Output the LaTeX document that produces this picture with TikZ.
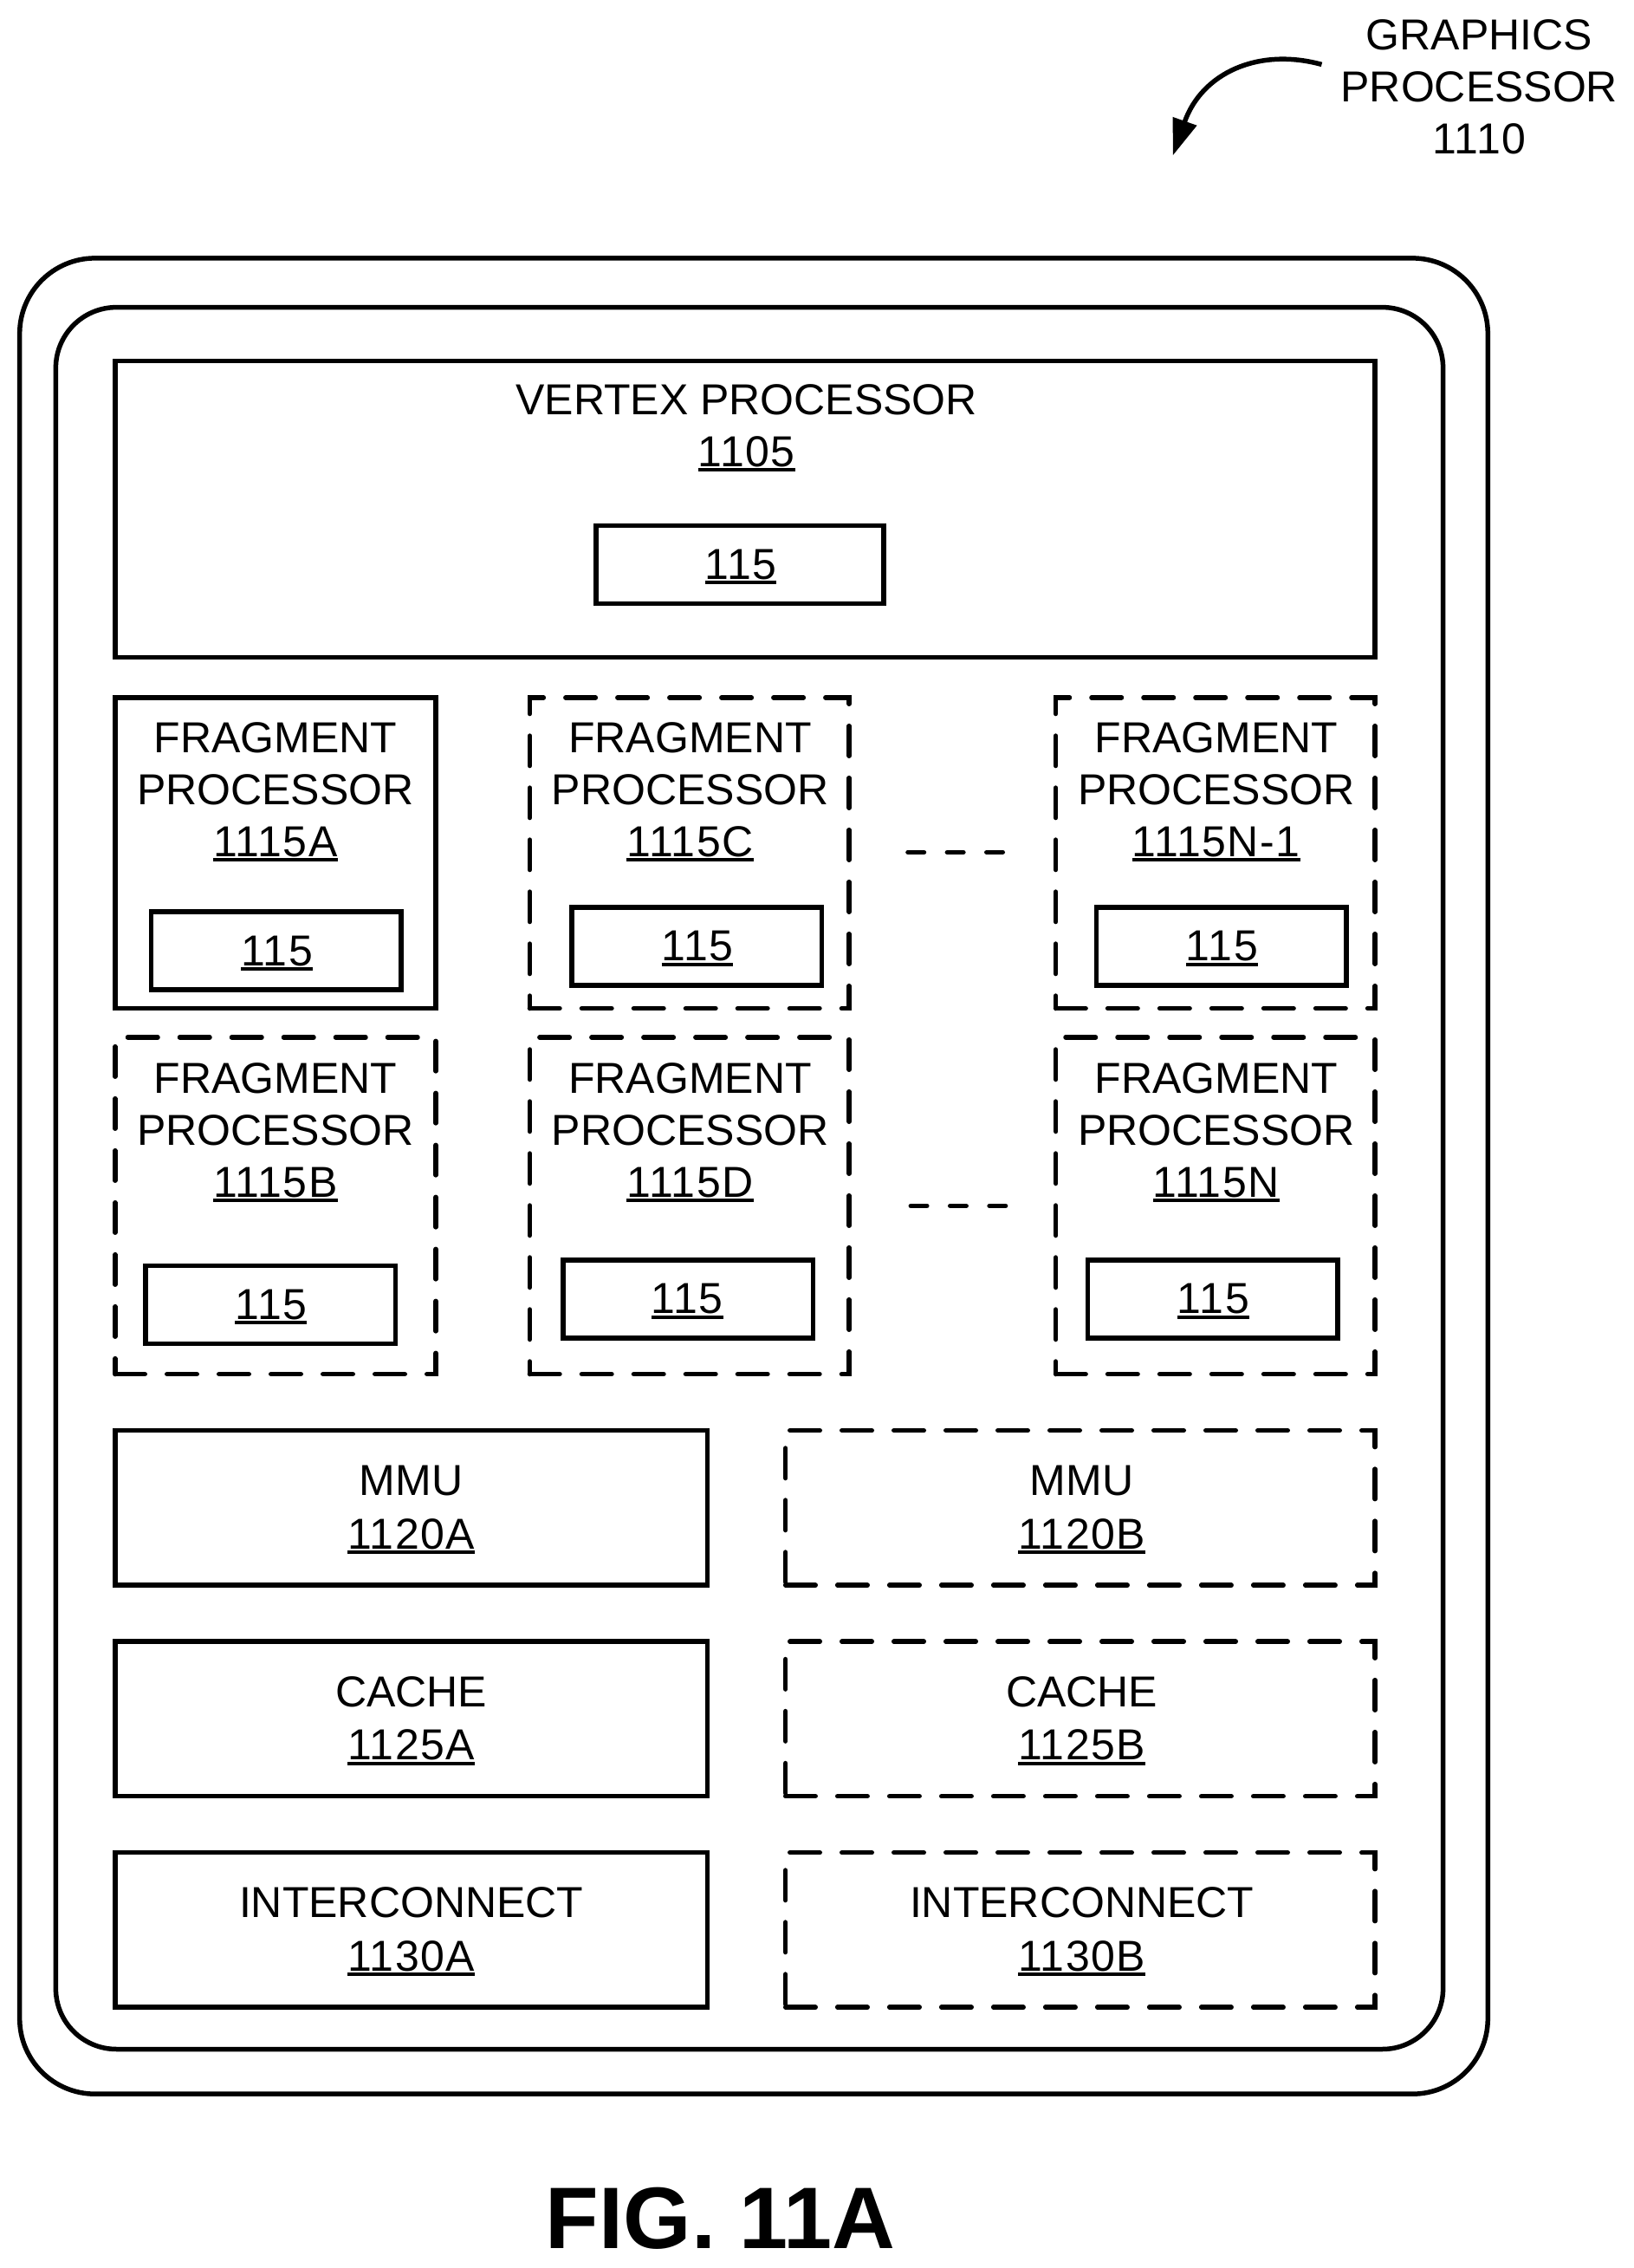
\documentclass[tikz,border=0pt]{standalone}
\usepackage{fontspec}
\setmainfont{Liberation Sans}
\newfontfamily\idf[LetterSpace=3.2]{Liberation Sans}
\usetikzlibrary{arrows.meta}
\newcommand\ulx[1]{\setbox0\hbox{\idf #1}\rlap{\vrule width\wd0 height -1pt depth 3pt}\box0}
\newcommand\bx[6]{\node[#6,minimum width=\the\numexpr#4-#2\relax*0.834pt,minimum height=\the\numexpr#5-#3\relax*0.834pt] (#1) at ({(#2+#4)/2},{(#3+#5)/2}) {};}
\tikzset{
  x=0.834pt,y=-0.834pt,
  solidbox/.style={draw=black,line width=2.75pt,inner sep=0pt,outer sep=0pt,rectangle},
  dashbox/.style={solidbox,line cap=round,dash pattern=on 17.25pt off 12.75pt},
  lbl/.style={anchor=base,inner sep=0pt,outer sep=0pt,font=\fontsize{25pt}{30pt}\selectfont},
  ell/.style={line width=2.75pt,line cap=round,dash pattern=on 9.25pt off 13.45pt},
}
\begin{document}
\begin{tikzpicture}
\useasboundingbox (-0.6,-0.6) rectangle (1129.6,1568.4);
\bx{outer}{13}{178}{1029}{1448}{solidbox,rounded corners=43.5pt}
\bx{inner}{38}{212}{998}{1417}{solidbox,rounded corners=35pt}
\bx{vertex}{79}{249}{951}{454}{solidbox}
\bx{vs}{412}{363}{611}{417}{solidbox}
\bx{fa}{79}{482}{301}{697}{solidbox}
\bx{fas}{104}{630}{277}{684}{solidbox}
\bx{fc}{366}{482}{587}{697}{dashbox}
\bx{fcs}{395}{627}{568}{681}{solidbox}
\bx{fm}{730}{482}{951}{697}{dashbox}
\bx{fms}{758}{627}{931}{681}{solidbox}
\bx{fb}{79}{717}{301}{950}{dashbox}
\bx{fbs}{100}{875}{273}{929}{solidbox}
\bx{fd}{366}{717}{587}{950}{dashbox}
\bx{fds}{389}{871}{562}{925}{solidbox}
\bx{fn}{730}{717}{951}{950}{dashbox}
\bx{fns}{752}{871}{925}{925}{solidbox}
\bx{ma}{79}{989}{489}{1096}{solidbox}
\bx{mb}{543}{989}{951}{1096}{dashbox}
\bx{ca}{79}{1135}{489}{1242}{solidbox}
\bx{cb}{543}{1135}{951}{1242}{dashbox}
\bx{ia}{79}{1281}{489}{1388}{solidbox}
\bx{ib}{543}{1281}{951}{1388}{dashbox}
% vertex
\node[lbl] (t1) at (516,286) {VERTEX PROCESSOR};
\node[lbl] (t2) at (516,322) {\ulx{1105}};
\node[lbl] (t3) at (512,400) {\ulx{115}};
% fragments
\foreach \n/\cx/\by/\id in {a/190/520/1115A,c/477/520/1115C,m/841/520/1115N-1,b/190/755.5/1115B,d/477/755.5/1115D,n/841/755.5/1115N}{
  \node[lbl] (l1\n) at (\cx,\by) {FRAGMENT};
  \node[lbl] (l2\n) at (\cx,\by+36) {PROCESSOR};
  \node[lbl] (l3\n) at (\cx,\by+72) {\ulx{\id}};
}
\foreach \n/\cx/\by in {a/191/667.5,c/482/664,m/845/664,b/187/912,d/475/908,n/839/908}{
  \node[lbl] (s\n) at (\cx,\by) {\ulx{115}};
}
% lower blocks
\foreach \n/\cx/\by/\nm/\id in {ma/284/1034/MMU/1120A,mb/748/1034/MMU/1120B,ca/284/1180/CACHE/1125A,cb/748/1180/CACHE/1125B,ia/284/1326/INTERCONNECT/1130A,ib/748/1326/INTERCONNECT/1130B}{
  \node[lbl] (u\n) at (\cx,\by) {\nm};
  \node[lbl] (v\n) at (\cx,\by+37) {\ulx{\id}};
}
% ellipses
\coordinate (e1a) at (627.7,589); \coordinate (e1b) at (694,589);
\coordinate (e2a) at (629.7,833.6); \coordinate (e2b) at (696,833.6);
\draw[ell] (e1a) -- (e1b);
\draw[ell] (e2a) -- (e2b);
% title
\node[lbl] (g1) at (1023,34) {GRAPHICS};
\node[lbl] (g2) at (1023,70) {PROCESSOR};
\node[lbl] (g3) at (1023,106) {\idf 1110};
\coordinate (as) at (914,44);
\coordinate (at) at (811,107);
\draw[line width=2.75pt,-{Triangle[length=21pt,width=14pt]}] (as) .. controls (870,32) and (831,50) .. (at);
\node[anchor=base,inner sep=0pt,font=\fontsize{50.4pt}{60pt}\selectfont\bfseries] (fig) at (498,1555) {FIG. 11A};
\end{tikzpicture}
\end{document}
